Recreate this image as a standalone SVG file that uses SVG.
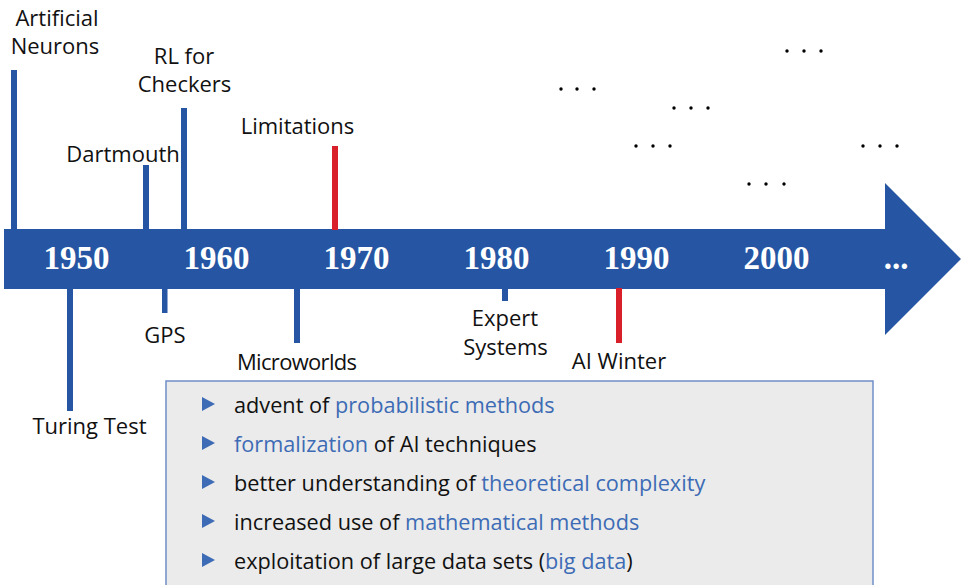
<svg xmlns="http://www.w3.org/2000/svg" width="961" height="585" viewBox="0 0 961 585">
<style>
.lbl{font-family:"Open Sans","Liberation Sans",sans-serif;font-size:22px;fill:#111;text-anchor:middle}
.yr{font-family:"Liberation Serif","Times New Roman",serif;font-size:33px;font-weight:bold;fill:#fff;text-anchor:middle}
.tb{fill:#2656a3}
.tr{fill:#d9202a}
.it{font-family:"Open Sans","Liberation Sans",sans-serif;font-size:21.7px;fill:#111}
.hl{fill:#3d6bb5}
.bul{fill:#3d6bb5}
.dot{fill:#000}
</style>
<rect width="961" height="585" fill="#fff"/>
<g id="timeline">
<polygon class="tb" points="4,229 885,229 885,183 961,259 885,335 885,289 4,289"/>
<text class="yr" x="76.5" y="269">1950</text>
<text class="yr" x="216.5" y="269">1960</text>
<text class="yr" x="356.5" y="269">1970</text>
<text class="yr" x="496.5" y="269">1980</text>
<text class="yr" x="636.5" y="269">1990</text>
<text class="yr" x="776.5" y="269">2000</text>
<text class="yr" x="896" y="269">...</text>
</g>
<g id="connectors">
<rect class="tb" x="11" y="70" width="6" height="160"/>
<rect class="tb" x="143" y="165" width="6" height="65"/>
<rect class="tb" x="181" y="108" width="6" height="122"/>
<rect class="tr" x="332" y="146" width="6" height="84"/>
<rect class="tb" x="67" y="288" width="6" height="123"/>
<rect class="tb" x="162" y="288" width="5.5" height="25"/>
<rect class="tb" x="294" y="288" width="6" height="55"/>
<rect class="tb" x="502" y="288" width="6" height="13"/>
<rect class="tr" x="616" y="288" width="6" height="55"/>
</g>
<g id="n-artificial-neurons"><text class="lbl" x="57" y="26">Artificial</text><text class="lbl" x="55" y="54">Neurons</text></g>
<g id="n-rl-checkers"><text class="lbl" x="184" y="64">RL for</text><text class="lbl" x="184.5" y="92">Checkers</text></g>
<g id="n-limitations"><text class="lbl" x="297.5" y="134">Limitations</text></g>
<g id="n-dartmouth"><text class="lbl" x="123" y="162">Dartmouth</text></g>
<g id="n-turing"><text class="lbl" x="89.5" y="434">Turing Test</text></g>
<g id="n-gps"><text class="lbl" x="165" y="343">GPS</text></g>
<g id="n-microworlds"><text class="lbl" x="297" y="370" textLength="120">Microworlds</text></g>
<g id="n-expert"><text class="lbl" x="505" y="326">Expert</text><text class="lbl" x="505.5" y="355">Systems</text></g>
<g id="n-ai-winter"><text class="lbl" x="619" y="369">AI Winter</text></g>
<g id="dots">
<circle class="dot" cx="787" cy="51" r="1.7"/><circle class="dot" cx="804" cy="51" r="1.7"/><circle class="dot" cx="821" cy="51" r="1.7"/>
<circle class="dot" cx="561" cy="89" r="1.7"/><circle class="dot" cx="577" cy="89" r="1.7"/><circle class="dot" cx="594" cy="89" r="1.7"/>
<circle class="dot" cx="674" cy="108" r="1.7"/><circle class="dot" cx="691" cy="108" r="1.7"/><circle class="dot" cx="708" cy="108" r="1.7"/>
<circle class="dot" cx="636" cy="146" r="1.7"/><circle class="dot" cx="653" cy="146" r="1.7"/><circle class="dot" cx="670" cy="146" r="1.7"/>
<circle class="dot" cx="863" cy="146" r="1.7"/><circle class="dot" cx="880" cy="146" r="1.7"/><circle class="dot" cx="897" cy="146" r="1.7"/>
<circle class="dot" cx="749" cy="184" r="1.7"/><circle class="dot" cx="766" cy="184" r="1.7"/><circle class="dot" cx="784" cy="184" r="1.7"/>
</g>
<g id="n-box">
<rect x="166" y="381" width="707" height="220" fill="#ebebeb" stroke="#6f8fc8" stroke-width="1.5"/>
<polygon class="bul" points="202,397 202,411 215,404"/>
<polygon class="bul" points="202,436 202,450 215,443"/>
<polygon class="bul" points="202,475 202,489 215,482"/>
<polygon class="bul" points="202,514 202,528 215,521"/>
<polygon class="bul" points="202,553 202,567 215,560"/>
<text class="it" x="234" y="413">advent of <tspan class="hl">probabilistic methods</tspan></text>
<text class="it" x="234" y="452"><tspan class="hl">formalization</tspan> of AI techniques</text>
<text class="it" x="234" y="491">better understanding of <tspan class="hl">theoretical complexity</tspan></text>
<text class="it" x="234" y="530">increased use of <tspan class="hl">mathematical methods</tspan></text>
<text class="it" x="234" y="569">exploitation of large data sets (<tspan class="hl">big data</tspan>)</text>
</g>
</svg>
